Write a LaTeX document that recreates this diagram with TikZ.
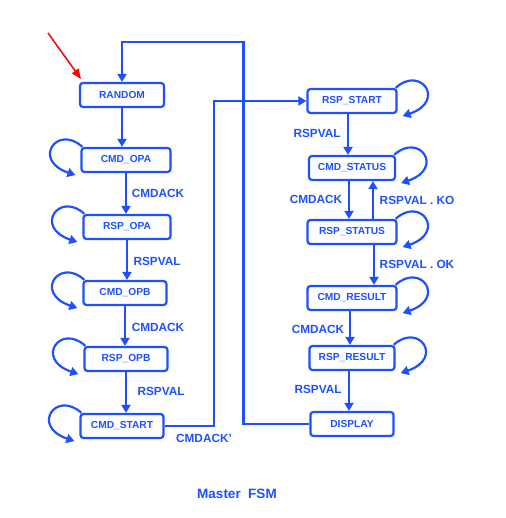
\documentclass[tikz,border=0pt]{standalone}
\usepackage{fontspec}
\setmainfont{Liberation Sans}
\usetikzlibrary{calc,arrows.meta}
\definecolor{fsmblue}{RGB}{30,80,255}
\tikzset{
	state/.style={draw=fsmblue, line width=2.2pt, rounded corners=3pt, minimum width=86pt, minimum height=24pt, inner sep=0pt, text=fsmblue, font=\fontsize{10.2}{12}\selectfont\bfseries},
	cond/.style={text=fsmblue, inner sep=0pt, font=\fontsize{11.8}{13}\selectfont\bfseries},
	trans/.style={draw=fsmblue, line width=2.2pt, -{Triangle[length=8pt,width=9pt]}}
}
\newcommand{\leftloop}[1]{\draw[trans] ($(#1.north west)+(2,0)$) .. controls +(-25,-23) and +(-44,-15) .. ($(#1.south west)+(-5,2)$);}
\newcommand{\rightloop}[1]{\draw[trans] ($(#1.north east)+(-2,0)$) .. controls +(25,-23) and +(44,-15) .. ($(#1.south east)+(5,2)$);}

\begin{document}
\begin{tikzpicture}[x=1pt, y=-1pt]
			\useasboundingbox (0,0) rectangle (505,518);
			\node[state, minimum width=84pt] (random) at (122,95) {RANDOM};
			\node[state, minimum width=89pt] (cmdopa) at (126,160) {CMD\_OPA};
			\node[state, minimum width=87pt] (rspopa) at (127,227) {RSP\_OPA};
			\node[state, minimum width=83pt] (cmdopb) at (125,293) {CMD\_OPB};
			\node[state, minimum width=83pt] (rspopb) at (126,359) {RSP\_OPB};
			\node[state, minimum width=83pt] (cmdstart) at (122,426) {CMD\_START};
			\node[state, minimum width=89pt] (rspstart) at (352,101) {RSP\_START};
			\node[state] (cmdstatus) at (352,168) {CMD\_STATUS};
			\node[state, minimum width=89pt] (rspstatus) at (352,232) {RSP\_STATUS};
			\node[state, minimum width=89pt] (cmdresult) at (352,298) {CMD\_RESULT};
			\node[state, minimum width=85pt] (rspresult) at (352,358) {RSP\_RESULT};
			\node[state, minimum width=83pt] (display) at (352,424) {DISPLAY};
			
			\coordinate (init) at (48,33);
			\coordinate (initend) at (81,79);
			\draw[red, line width=1.5pt, -{Triangle[length=10pt,width=8pt]}] (init) -- (initend);
			
			\draw[trans] (random.south) -- (random.south |- cmdopa.north);
			\draw[trans] (cmdopa.south) -- (cmdopa.south |- rspopa.north);
			\draw[trans] (rspopa.south) -- (rspopa.south |- cmdopb.north);
			\draw[trans] (cmdopb.south) -- (cmdopb.south |- rspopb.north);
			\draw[trans] (rspopb.south) -- (rspopb.south |- cmdstart.north);
			\draw[trans] (cmdstart.east) -- ++(49,0) |- (rspstart.west);
			\draw[trans] ([xshift=-4pt]rspstart.south) -- ([xshift=-4pt]cmdstatus.north);
			\draw[trans] ([xshift=-3pt]cmdstatus.south) -- ([xshift=-3pt]rspstatus.north);
			\draw[trans] ([xshift=21pt]rspstatus.north) -- ([xshift=21pt]cmdstatus.south);
			\draw[trans] ([xshift=22pt]rspstatus.south) -- ([xshift=22pt]cmdresult.north);
			\draw[trans] ([xshift=-2pt]cmdresult.south) -- ([xshift=-2pt]rspresult.north);
			\draw[trans] ([xshift=-3pt]rspresult.south) -- ([xshift=-3pt]display.north);
			\draw[trans] (display.west) -- ++(-66,0) -- ++(0,-382) -| (random.north);
			
			\leftloop{cmdopa}
			\leftloop{rspopa}
			\leftloop{cmdopb}
			\leftloop{rspopb}
			\leftloop{cmdstart}
			\rightloop{rspstart}
			\rightloop{cmdstatus}
			\rightloop{rspstatus}
			\rightloop{cmdresult}
			\rightloop{rspresult}
			
			\node[cond] (ackopa) at (158,193) {CMDACK};
			\node[cond] (valopa) at (157,261) {RSPVAL};
			\node[cond] (ackopb) at (158,327) {CMDACK};
			\node[cond] (valopb) at (161,391) {RSPVAL};
			\node[cond] (ackstart) at (204,438) {CMDACK'};
			\node[cond] (valstart) at (317,133) {RSPVAL};
			\node[cond] (ackstatus) at (316,199) {CMDACK};
			\node[cond] (valko) at (417,200) {RSPVAL . KO};
			\node[cond] (valok) at (417,264) {RSPVAL . OK};
			\node[cond] (ackresult) at (318,329) {CMDACK};
			\node[cond] (valresult) at (318,389) {RSPVAL};
			\node[cond, font=\fontsize{13.5}{15}\selectfont\bfseries] (title) at (237,494) {Master\ \ FSM};
			
		\end{tikzpicture}
\end{document}
